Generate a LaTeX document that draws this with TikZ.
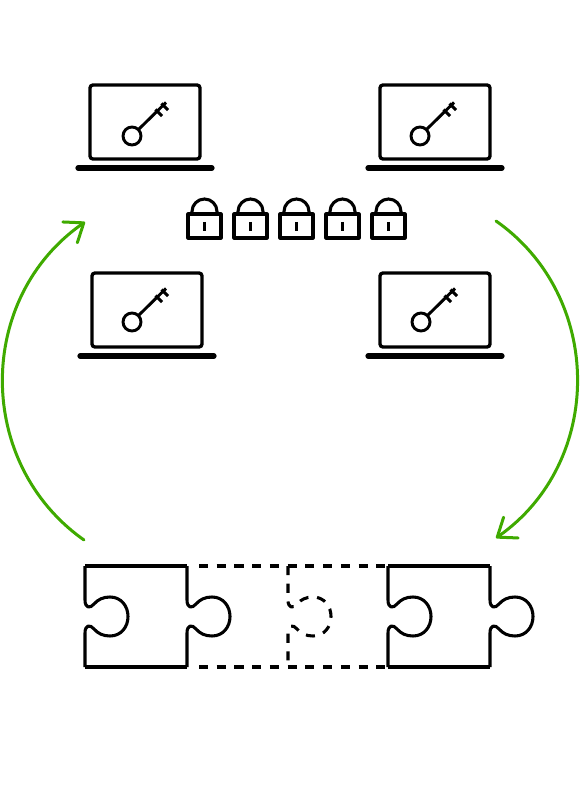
\documentclass[tikz,border=0pt]{standalone}
\usepackage{xcolor}
\usetikzlibrary{arrows.meta}
\definecolor{cyclegreen}{HTML}{3FAA00}
\tikzset{
  laptopline/.style={line width=2.5pt, rounded corners=2.2pt},
  baseline/.style={line width=3.9pt, line cap=round},
  keyline/.style={line width=2.2pt},
  lockline/.style={line width=2.3pt, line join=round},
  pieceline/.style={line width=2.3pt, line join=round},
  dashline/.style={pieceline, dash pattern=on 6.8pt off 6.5pt},
  cyclearrow/.style={line width=2.25pt, cyclegreen, line cap=round, -{Straight Barb[length=12.5pt, width=19pt, line width=2.25pt, round]}}
}
% side of a puzzle piece: top corner to bottom corner, knob to the right
\newcommand{\pieceedge}[2][pieceline]{
  \draw[#1] (#2,566) -- (#2,600) .. controls (#2,608) and (#2+5,609) .. (#2+9,604)
    .. controls (#2+13,599.5) and (#2+18,597) .. (#2+25,597)
    .. controls (#2+36,597) and (#2+43,606) .. (#2+43,616.5)
    .. controls (#2+43,627) and (#2+36,636) .. (#2+25,636)
    .. controls (#2+18,636) and (#2+13,633.5) .. (#2+9,629)
    .. controls (#2+5,624) and (#2,625) .. (#2,633) -- (#2,667);
}
\begin{document}
\begin{tikzpicture}[x=0.75pt, y=-0.75pt]
  \useasboundingbox (0,0) rectangle (580,798);
  % laptops with keys
  \foreach \lx/\ly/\kx/\ky in {90/85/132/136, 380/85/420/136, 92/273/132/322, 380/273/421/322} {
    \draw[laptopline] (\lx,\ly) rectangle (\lx+110,\ly+74);
    \draw[baseline] (\lx-12,\ly+83) -- (\lx+122,\ly+83);
    \draw[keyline] (\kx,\ky) circle (9);
    \draw[keyline] (\kx+6.5,\ky-6.5) -- (\kx+34,\ky-33.5);
    \draw[keyline] (\kx+29.5,\ky-32.5) -- (\kx+36,\ky-26);
    \draw[keyline] (\kx+23.5,\ky-26.5) -- (\kx+30,\ky-20);
  }
  % locks
  \foreach \a in {188,234,280,326,372} {
    \draw[lockline] (\a,214) rectangle (\a+33,238);
    \draw[lockline] (\a+4,214) -- (\a+4,211.5) arc[start angle=180, end angle=360, radius=12.5] -- (\a+29,214);
    \draw[line width=2.25pt] (\a+16.5,222) -- (\a+16.5,231);
  }
  % cycle arrows
  \coordinate (leftstart) at (84,540);
  \coordinate (leftend) at (85,222);
  \coordinate (rightstart) at (496,221);
  \coordinate (rightend) at (496,538);
  \draw[cyclearrow] (leftstart) to[bend left=55, looseness=1.07] (leftend);
  \draw[cyclearrow] (rightstart) to[bend left=55, looseness=1.07] (rightend);
  % puzzle pieces
  \draw[pieceline] (187,566) -- (85,566);
  \draw[pieceline] (187,667) -- (85,667);
  \draw[pieceline] (388,566) -- (490,566);
  \draw[pieceline] (388,667) -- (490,667);
  \draw[dashline] (199,566) -- (388,566);
  \draw[dashline] (199,667) -- (388,667);
  \foreach \e in {85,187,388,490} {
    \pieceedge{\e}
  }
  \pieceedge[dashline]{288}
\end{tikzpicture}
\end{document}
